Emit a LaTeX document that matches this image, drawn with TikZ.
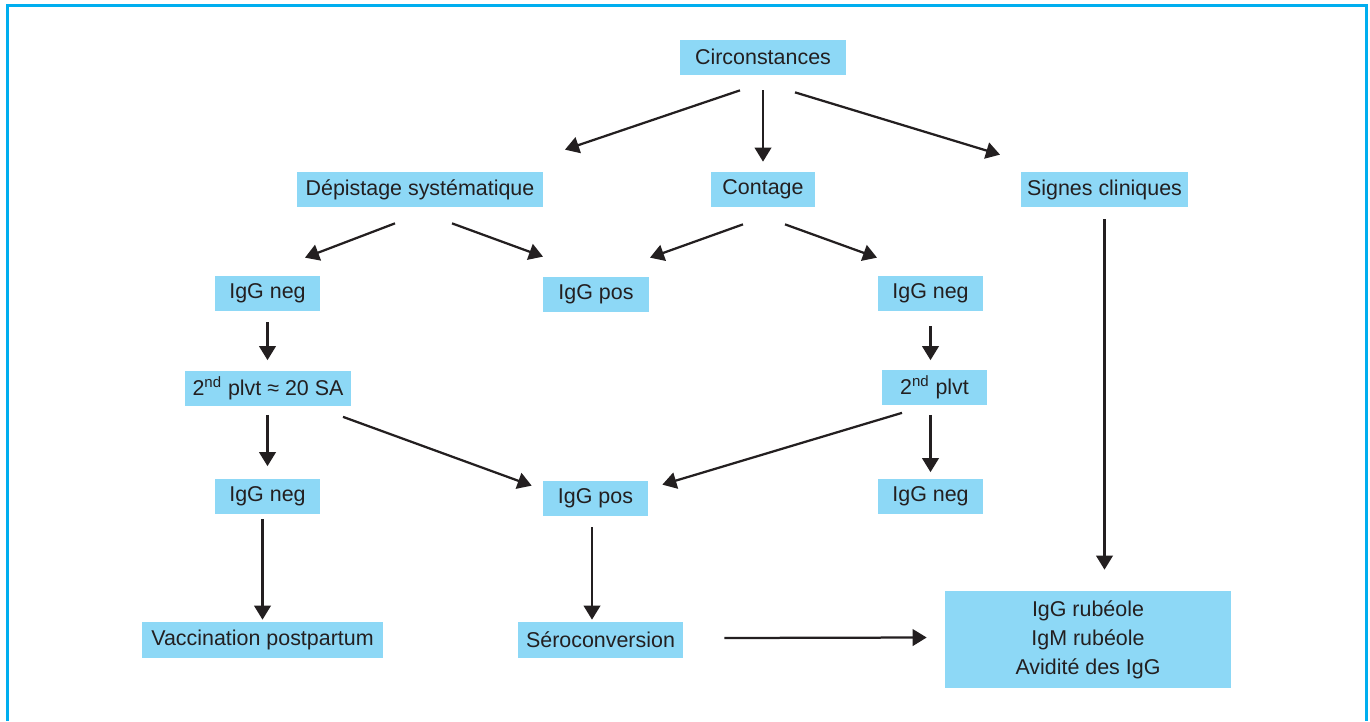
\documentclass[tikz,border=0pt]{standalone}
\usepackage{fontspec}
\setmainfont{Liberation Sans}
\usetikzlibrary{arrows.meta}
\definecolor{boxblue}{RGB}{141,216,246}
\definecolor{framecyan}{RGB}{0,174,239}
\definecolor{ink}{RGB}{35,31,32}

\begin{document}
\begin{tikzpicture}[x=0.02cm,y=-0.02cm,
  box/.style={fill=boxblue,text=ink,inner sep=1pt,minimum height=0.7cm,font=\fontsize{12.2}{16.5}\selectfont},
  arr/.style={draw=ink,line width=0.045cm,-{Triangle[length=0.28cm,width=0.33cm]}}]
  \useasboundingbox (0,0) rectangle (1370,721);
  \draw[framecyan,line width=0.06cm] (7.5,721) |- (1366,5.5) -- (1366,721);
  % boxes
  \node[box,minimum width=3.32cm] (circ) at (763,57) {Circonstances};
  \node[box,minimum width=4.92cm] (dep) at (420,189.5) {Dépistage systématique};
  \node[box,minimum width=2.1cm] (cont) at (763,189.5) {Contage};
  \node[box,minimum width=3.34cm] (sig) at (1104.5,189.5) {Signes cliniques};
  \node[box,minimum width=2.1cm] (neg1) at (267.5,293.5) {IgG neg};
  \node[box,minimum width=2.12cm] (pos1) at (596,294) {IgG pos};
  \node[box,minimum width=2.1cm] (neg2) at (930.5,293.5) {IgG neg};
  \node[box,minimum width=3.32cm] (plvA) at (268,388) {2\textsuperscript{nd} plvt ≈ 20 SA};
  \node[box,minimum width=2.1cm] (plvB) at (934.5,387) {2\textsuperscript{nd} plvt};
  \node[box,minimum width=2.1cm] (neg3) at (267.5,496.5) {IgG neg};
  \node[box,minimum width=2.1cm] (pos2) at (595.5,498) {IgG pos};
  \node[box,minimum width=2.1cm] (neg4) at (930.5,496.5) {IgG neg};
  \node[box,minimum width=4.82cm,minimum height=0.72cm] (vac) at (262.5,640) {Vaccination postpartum};
  \node[box,minimum width=3.3cm,minimum height=0.72cm] (sero) at (600.5,640) {Séroconversion};
  \node[box,minimum width=5.72cm,minimum height=1.94cm,align=center] (rub) at (1088,639.5) {IgG rubéole\\IgM rubéole\\Avidité des IgG};
  % arrows
  \draw[arr] ([xshift=-0.46cm,yshift=-0.31cm]circ.south) -- ([xshift=2.9cm,yshift=0.44cm]dep.north);
  \draw[arr] ([yshift=-0.31cm]circ.south) -- ([yshift=0.2cm]cont.north);
  \draw[arr] ([xshift=0.64cm,yshift=-0.35cm]circ.south) -- ([xshift=-2.09cm,yshift=0.34cm]sig.north);
  \draw[arr] ([xshift=-0.5cm,yshift=-0.32cm]dep.south) -- ([xshift=0.75cm,yshift=0.36cm]neg1.north);
  \draw[arr] ([xshift=0.64cm,yshift=-0.32cm]dep.south) -- ([xshift=-1.06cm,yshift=0.39cm]pos1.north);
  \draw[arr] ([xshift=-0.4cm,yshift=-0.34cm]cont.south) -- ([xshift=1.08cm,yshift=0.37cm]pos1.north);
  \draw[arr] ([xshift=0.44cm,yshift=-0.34cm]cont.south) -- ([xshift=-1.07cm,yshift=0.36cm]neg2.north);
  \draw[arr] ([yshift=-0.22cm]neg1.south) -- ([yshift=0.2cm]neg1.south |- plvA.north);
  \draw[arr] ([yshift=-0.3cm]neg2.south) -- ([yshift=0.18cm]neg2.south |- plvB.north);
  \draw[arr] ([yshift=-0.18cm]neg3.north |- plvA.south) -- ([yshift=0.25cm]neg3.north);
  \draw[arr] ([xshift=1.5cm,yshift=-0.22cm]plvA.south) -- ([xshift=-0.22cm,yshift=-0.11cm]pos2.north west);
  \draw[arr] ([xshift=-0.65cm,yshift=-0.16cm]plvB.south) -- ([xshift=0.28cm,yshift=-0.09cm]pos2.north east);
  \draw[arr] ([yshift=-0.2cm]neg4.north |- plvB.south) -- ([yshift=0.13cm]neg4.north);
  \draw[arr] ([yshift=-0.1cm]vac.north |- neg3.south) -- ([yshift=0.04cm]vac.north);
  \draw[arr] ([xshift=-0.07cm,yshift=-0.23cm]pos2.south) -- ([xshift=-0.07cm,yshift=0.04cm]pos2.south |- sero.north);
  \draw[arr] ([xshift=0.82cm,yshift=0.04cm]sero.east) -- ([xshift=-0.36cm,yshift=0.04cm]rub.west);
  \draw[arr] ([yshift=-0.24cm]sig.south) -- ([yshift=0.42cm]sig.south |- rub.north);
\end{tikzpicture}
\end{document}
